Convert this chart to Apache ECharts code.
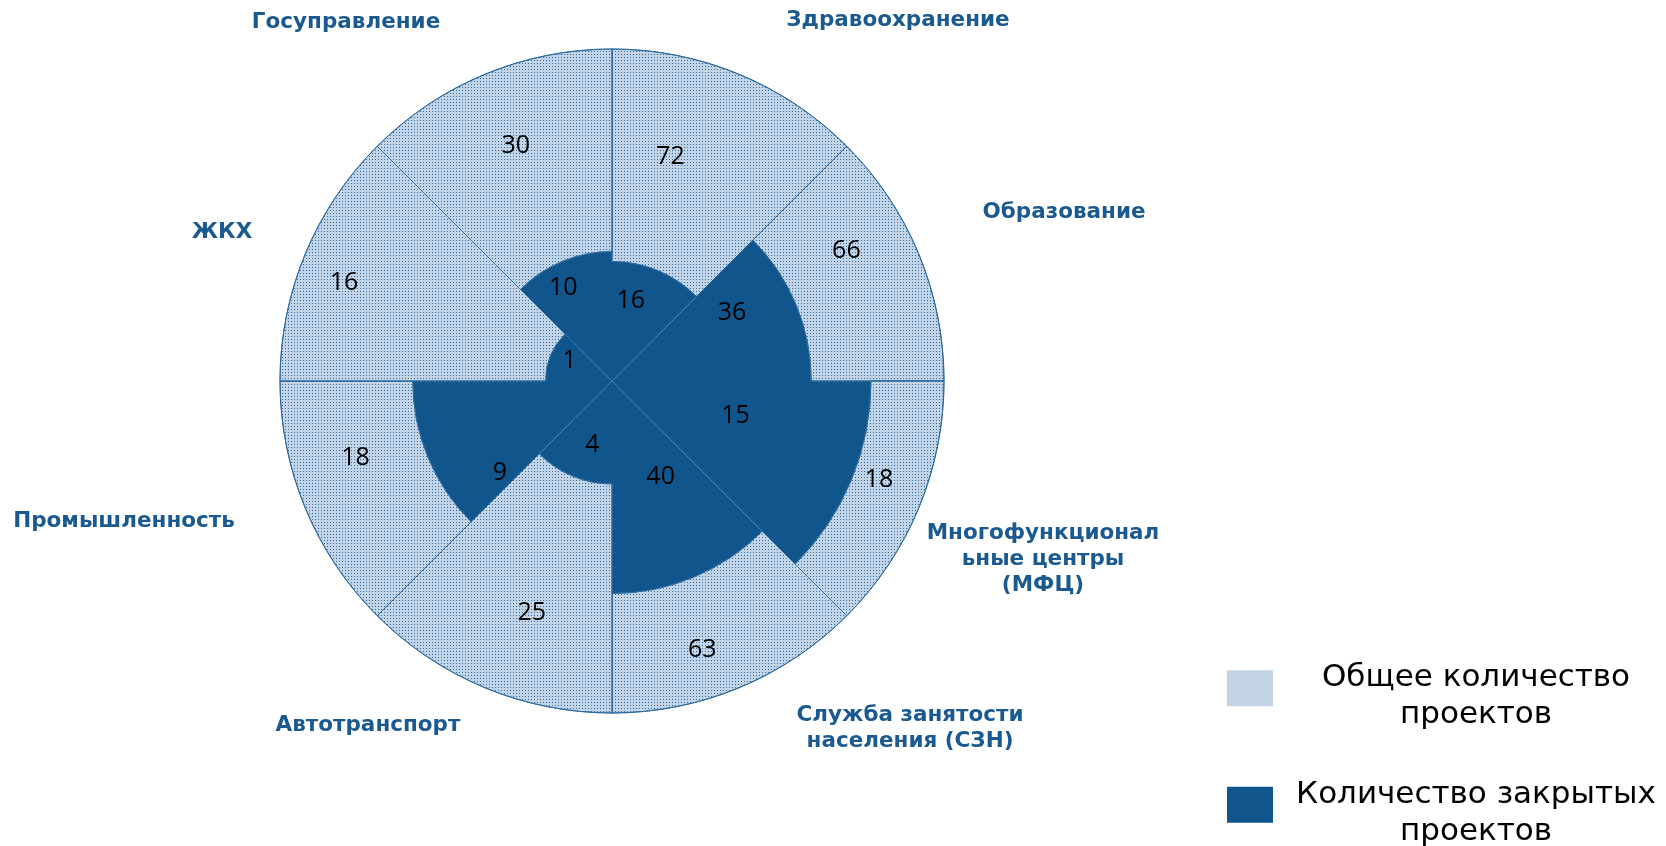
<!DOCTYPE html>
<html>
<head>
<meta charset="utf-8">
<script src="https://cdn.jsdelivr.net/npm/echarts@6/dist/echarts.min.js"></script>
<style>
  html, body { margin: 0; padding: 0; background: #fff; }
  #chart { width: 1666px; height: 846px; }
</style>
</head>
<body>
<div id="chart"></div>
<script>
// sectors, clockwise from 12 o'clock
var categories = ['Здравоохранение', 'Образование', 'Многофункционал\nьные центры\n(МФЦ)',
  'Служба занятости\nнаселения (СЗН)', 'Автотранспорт', 'Промышленность', 'ЖКХ', 'Госуправление']
var totalProjects = [72, 66, 18, 63, 25, 18, 16, 30]
var closedProjects = [16, 36, 15, 40, 4, 9, 1, 10]
// radius of the dark sector, % of the full circle (as drawn)
var closedRadius = [36, 60, 78, 64, 31, 60, 20, 39]

var seriesNames = ['Общее количество проектов', 'Количество закрытых проектов']
var legendText = ['Общее количество\nпроектов', 'Количество закрытых\nпроектов']

// layout only: caption centres and label nudges (px)
var captionPos = [[898, 20], [1064, 212], [1043, 559], [910, 728], [368, 725], [124, 521], [222, 232], [346, 22]]
var lightLabelShift = [[-28, -16], [-11, -28], [-6, -14], [-14, 17], [3, 31], [-11, -25], [-84, -22], [-8, -22]]
var darkLabelShift = [[-4, -25], [28, -30], [4, -15], [8, -2], [0, 16], [-20, 54], [-12, -7], [-24, -33]]

var dark = '#10568c'
var light = '#c2d4e6'

var chart = echarts.init(document.getElementById('chart'))

var captions = categories.map(function(c, i) {
  return {
    type: 'text',
    x: captionPos[i][0],
    y: captionPos[i][1],
    style: {
      text: c,
      fill: '#1b5a90',
      fontSize: 21.5,
      fontWeight: 'bold',
      fontFamily: 'DejaVu Sans',
      lineHeight: 26,
      align: 'center',
      verticalAlign: 'middle',
      textAlign: 'center',
      textVerticalAlign: 'middle'
    }
  }
})

var valueLabel = {
  show: true,
  position: 'middle',
  rotate: 0,
  color: '#000',
  fontSize: 25,
  fontFamily: 'Open Sans'
}

chart.setOption({
  animation: false,
  polar: {
    center: [612, 381],
    radius: 332
  },
  angleAxis: {
    type: 'category',
    data: categories,
    startAngle: 90,
    clockwise: true,
    axisLine: { show: false },
    axisTick: { show: false },
    axisLabel: { show: false },
    splitLine: { show: false }
  },
  radiusAxis: {
    type: 'value',
    min: 0,
    max: 100,
    axisLine: { show: false },
    axisTick: { show: false },
    axisLabel: { show: false },
    splitLine: { show: false }
  },
  legend: {
    orient: 'vertical',
    left: 1222,
    top: 641,
    height: 260,
    itemWidth: 46,
    itemHeight: 36,
    itemGap: 32,
    icon: 'rect',
    data: [
      { name: seriesNames[0], itemStyle: { color: '#c2d4e3', decal: 'none', borderWidth: 0 } },
      { name: seriesNames[1], itemStyle: { color: dark } }
    ],
    formatter: function(name) {
      return '{t|' + legendText[seriesNames.indexOf(name)] + '}'
    },
    textStyle: {
      rich: {
        t: {
          width: 396,
          align: 'center',
          fontSize: 31,
          lineHeight: 37,
          padding: [16.5, 0, 0, 0],
          fontFamily: 'DejaVu Sans',
          color: '#000'
        }
      }
    }
  },
  graphic: captions,
  series: [
    {
      name: seriesNames[1],
      type: 'bar',
      coordinateSystem: 'polar',
      stack: 'all',
      barCategoryGap: '0%',
      data: closedRadius.map(function(r, i) {
        return { value: r, label: { offset: darkLabelShift[i] } }
      }),
      itemStyle: { color: dark, borderWidth: 0 },
      label: Object.assign({
        formatter: function(p) { return closedProjects[p.dataIndex] }
      }, valueLabel)
    },
    {
      name: seriesNames[0],
      type: 'bar',
      coordinateSystem: 'polar',
      stack: 'all',
      barCategoryGap: '0%',
      data: closedRadius.map(function(r, i) {
        return { value: 100 - r, label: { offset: lightLabelShift[i] } }
      }),
      itemStyle: {
        color: light,
        borderColor: '#2d6b9f',
        borderWidth: 1,
        decal: {
          symbol: 'rect',
          symbolSize: 1,
          color: '#2f6ba5',
          dashArrayX: [1, 2],
          dashArrayY: [1, 2]
        }
      },
      label: Object.assign({
        formatter: function(p) { return totalProjects[p.dataIndex] }
      }, valueLabel)
    }
  ]
})
</script>
</body>
</html>
